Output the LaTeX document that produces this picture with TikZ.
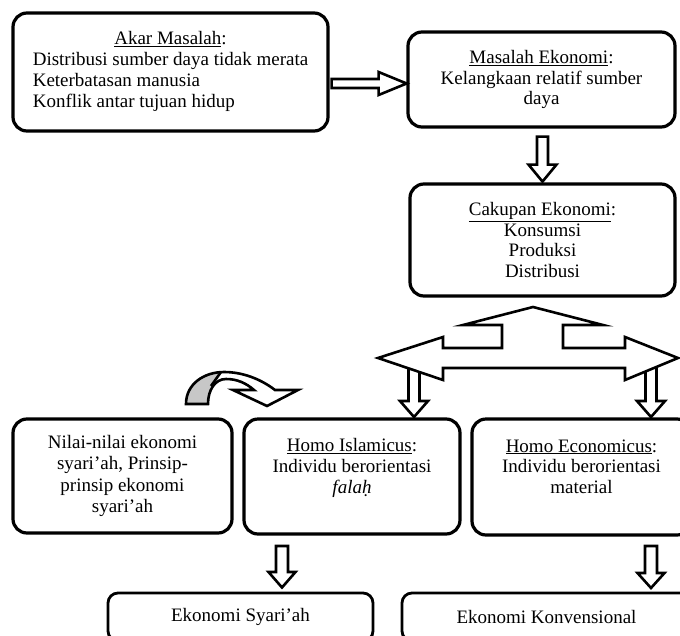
\documentclass[tikz,border=0pt]{standalone}
\usepackage{fontspec}
\setmainfont{Liberation Serif}
\usetikzlibrary{calc}
\begin{document}
\begin{tikzpicture}[x=1pt,y=-1pt,
  txt/.style={font=\fontsize{19}{20.8}\selectfont},
  box/.style={draw, line width=3.2pt, rounded corners=14pt, fill=white, inner sep=0pt, txt},
  cbox/.style={box, align=center},
  endbox/.style={draw, line width=2.8pt, rounded corners=10pt, fill=white, inner sep=0pt, txt},
  blk/.style={draw, line width=2.6pt, fill=white, line join=miter, miter limit=10},
]
\useasboundingbox (0,0) rectangle (680,635);

% boxes
\node[box, minimum width=315pt, minimum height=118pt] (b1) at (170.5,72)
  {\begin{tabular}{@{}l@{}}\multicolumn{1}{@{}c@{}}{\underline{Akar Masalah}:}\\
   Distribusi sumber daya tidak merata\\ Keterbatasan manusia\\ Konflik antar tujuan hidup\end{tabular}};
\node[cbox, minimum width=267pt, minimum height=95pt] (b2) at (541.5,79.5)
  {\underline{Masalah Ekonomi}:\\Kelangkaan relatif sumber\\daya};
\node[cbox, minimum width=265pt, minimum height=112pt] (b3) at (542.5,240)
  {\underline{Cakupan Ekonomi}:\\Konsumsi\\Produksi\\Distribusi};
\node[cbox, minimum width=219pt, minimum height=114pt, font=\fontsize{19}{21.5}\selectfont] (b4) at (122.5,476)
  {Nilai-nilai ekonomi\\syari’ah, Prinsip-\\prinsip ekonomi\\syari’ah};
\node[cbox, minimum width=216pt, minimum height=115pt] (b5) at (352,476.5)
  {\underline{Homo Islamicus}:\\Individu berorientasi\\\textit{falaḥ}\\\mbox{}};
\node[cbox, minimum width=219pt, minimum height=116pt] (b6) at (581.5,477)
  {\underline{Homo Economicus}:\\Individu berorientasi\\material\\\mbox{}};
\node[endbox, minimum width=265pt, minimum height=48pt] (b7) at (240.5,617) {Ekonomi Syari’ah};
\node[endbox, minimum width=289pt, minimum height=48pt] (b8) at (546.5,617) {Ekonomi Konvensional};

% block arrow: Akar Masalah -> Masalah Ekonomi
\draw[blk] ($(b1.east)+(2,7)$) -- ++(47,0) -- ++(0,-7) -- ++(28,11.5) -- ++(-28,11.5)
  -- ++(0,-7) -- ++(-47,0) -- cycle;
% block arrow: Masalah Ekonomi -> Cakupan Ekonomi
\draw[blk] ($(b2.south)+(-4.5,8)$) -- ++(11,0) -- ++(0,28) -- ++(8.5,0) -- ++(-14,17)
  -- ++(-14,-17) -- ++(8.5,0) -- cycle;

% small down arrows into Homo boxes (drawn below the big arrow)
\draw[blk] (408.5,362) -- (419.5,362) -- (419.5,401) -- (428,401) -- (414,417) -- (400,401) -- (408.5,401) -- cycle;
\draw[blk] (645.5,362) -- (656.5,362) -- (656.5,401) -- (665,401) -- (651,417) -- (637,401) -- (645.5,401) -- cycle;

% big branching arrow
\draw[blk] (533,307) -- (603,325) -- (563,325) -- (563,348) -- (625,348) -- (625,337) -- (678,358)
  -- (625,380) -- (625,368) -- (443,368) -- (443,380) -- (378,358) -- (443,337) -- (443,348)
  -- (502,348) -- (502,325) -- (463,325) -- cycle;

% down arrows to the bottom boxes
\draw[blk] (276,546) -- (288,546) -- (288,572) -- (295.5,572) -- (282,587.5) -- (268.5,572) -- (276,572) -- cycle;
\draw[blk] (645,546) -- (657,546) -- (657,573) -- (664.5,573) -- (651,588) -- (637.5,573) -- (645,573) -- cycle;

% curved arrow
\fill[white] (186,404) .. controls (186,384) and (204,372) .. (224,372)
  .. controls (244,372) and (262,380) .. (275,390) -- (298,390) -- (267,406) -- (233,390) -- (254,390)
  .. controls (246,383) and (237,379) .. (226,379) .. controls (215,379) and (208,390) .. (208,404) -- cycle;
\fill[black!22] (186,404) .. controls (186,386) and (200,373) .. (221,372) -- (211,386)
  .. controls (209,392) and (208,398) .. (208,404) -- cycle;
\draw[line width=2.6pt] (221,372) -- (211,386);
\draw[line width=2.6pt, line join=miter] (186,404) .. controls (186,384) and (204,372) .. (224,372)
  .. controls (244,372) and (262,380) .. (275,390) -- (298,390) -- (267,406) -- (233,390) -- (254,390)
  .. controls (246,383) and (237,379) .. (226,379) .. controls (215,379) and (208,390) .. (208,404) -- cycle;
\end{tikzpicture}
\end{document}
